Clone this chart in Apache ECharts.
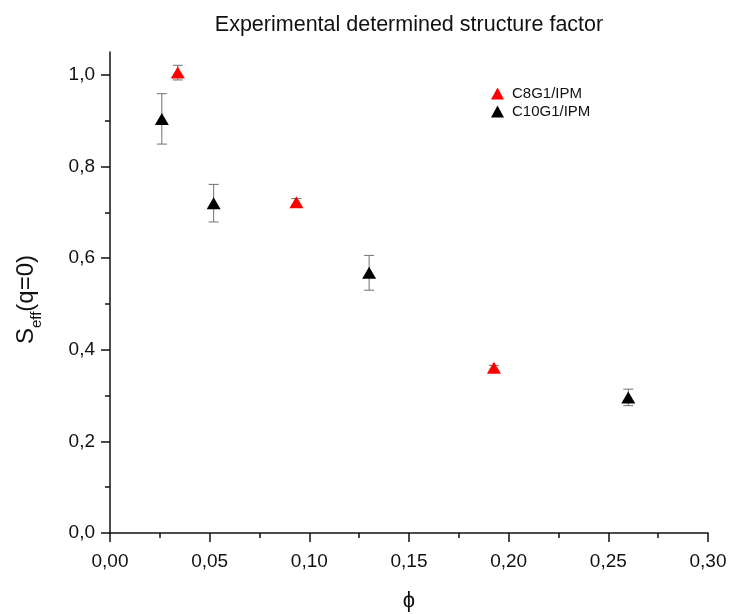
<!DOCTYPE html>
<html><head><meta charset="utf-8">
<script src="https://cdn.jsdelivr.net/npm/echarts@6/dist/echarts.min.js"></script>
<style>html,body{margin:0;padding:0;background:#fff}#c{width:729px;height:614px}</style>
</head><body><div id="c"></div>
<script>
// Data
const seriesNames = ['C8G1/IPM', 'C10G1/IPM'];
const phiC8 = [0.034, 0.0935, 0.1926];
const sC8 = [1.005, 0.722, 0.361];
const errC8 = [0.016, 0.008, 0.005];
const phiC10 = [0.026, 0.052, 0.130, 0.260];
const sC10 = [0.904, 0.720, 0.568, 0.296];
const errC10 = [0.055, 0.041, 0.038, 0.018];
const xMajor = [0, 0.05, 0.10, 0.15, 0.20, 0.25, 0.30];
const xMinor = [0.025, 0.075, 0.125, 0.175, 0.225, 0.275];
const yMajor = [0, 0.2, 0.4, 0.6, 0.8, 1.0];
const yMinor = [0.1, 0.3, 0.5, 0.7, 0.9];

const FONT = '"Liberation Sans", Arial, sans-serif';
const chart = echarts.init(document.getElementById('c'), null, {renderer: 'canvas'});

function pts(xs, ys, es) { return xs.map((x, i) => [x, ys[i], es[i]]); }

function errRender(params, api) {
  const x = api.value(0), y = api.value(1), e = api.value(2);
  const top = api.coord([x, y + e]);
  const bot = api.coord([x, y - e]);
  const hw = 5;
  const st = {stroke: '#707070', lineWidth: 1};
  return {type: 'group', children: [
    {type: 'line', shape: {x1: top[0], y1: top[1], x2: bot[0], y2: bot[1]}, style: st},
    {type: 'line', shape: {x1: top[0] - hw, y1: top[1], x2: top[0] + hw, y2: top[1]}, style: st},
    {type: 'line', shape: {x1: bot[0] - hw, y1: bot[1], x2: bot[0] + hw, y2: bot[1]}, style: st}
  ]};
}

const axisLbl = {fontFamily: FONT, fontSize: 19, color: '#111'};

chart.setOption({
  animation: false,
  backgroundColor: '#fff',
  title: {
    text: 'Experimental determined structure factor',
    left: 404, top: 9, textAlign: 'center',
    textStyle: {fontFamily: FONT, fontSize: 21.5, fontWeight: 'normal', color: '#111'}
  },
  legend: {
    orient: 'vertical', left: 486, top: 81, itemGap: 3,
    itemWidth: 13, itemHeight: 12,
    data: [{name: seriesNames[0], icon: 'triangle'}, {name: seriesNames[1], icon: 'triangle'}],
    textStyle: {fontFamily: FONT, fontSize: 15, color: '#111', padding: [0, 0, 0, 3]}
  },
  grid: {left: 110, right: 21, top: 52, bottom: 81, containLabel: false, outerBoundsMode: 'none'},
  xAxis: [{
    type: 'value', min: 0, max: 0.30,
    name: '\u03D5', nameLocation: 'middle', nameGap: 57,
    nameTextStyle: {fontFamily: FONT, fontSize: 22, color: '#111'},
    axisLine: {show: true, onZero: false, lineStyle: {color: '#111', width: 1.5}},
    axisTick: {show: true, length: 9, lineStyle: {color: '#111', width: 1.5}, customValues: xMajor},
    axisLabel: {...axisLbl, margin: 19, customValues: xMajor,
      formatter: v => v.toFixed(2).replace('.', ',')},
    splitLine: {show: false}
  }, {
    type: 'value', min: 0, max: 0.30, position: 'bottom',
    axisLine: {show: false},
    axisTick: {show: true, length: 5, lineStyle: {color: '#111', width: 1.5}, customValues: xMinor},
    axisLabel: {show: false}, splitLine: {show: false}
  }],
  yAxis: [{
    type: 'value', min: 0, max: 1.05,
    name: '{m|S}{s|eff}{m|(q=0)}', nameLocation: 'middle', nameGap: 66,
    nameTextStyle: {fontFamily: FONT, color: '#111', padding: [0, 14, 0, 0],
      rich: {m: {fontFamily: FONT, fontSize: 24, color: '#111', lineHeight: 30, verticalAlign: 'top'},
             s: {fontFamily: FONT, fontSize: 15, color: '#111', verticalAlign: 'top', padding: [15, 0, 0, 0]}}},
    axisLine: {show: true, onZero: false, lineStyle: {color: '#111', width: 1.5}},
    axisTick: {show: true, length: 9, lineStyle: {color: '#111', width: 1.5}, customValues: yMajor},
    axisLabel: {...axisLbl, margin: 15, customValues: yMajor,
      formatter: v => v.toFixed(1).replace('.', ',')},
    splitLine: {show: false}
  }, {
    type: 'value', min: 0, max: 1.05, position: 'left',
    axisLine: {show: false},
    axisTick: {show: true, length: 5, lineStyle: {color: '#111', width: 1.5}, customValues: yMinor},
    axisLabel: {show: false}, splitLine: {show: false}
  }],
  series: [
    {type: 'custom', name: 'errC8', renderItem: errRender, data: pts(phiC8, sC8, errC8), z: 1, silent: true},
    {type: 'custom', name: 'errC10', renderItem: errRender, data: pts(phiC10, sC10, errC10), z: 1, silent: true},
    {type: 'scatter', name: seriesNames[0], symbol: 'triangle', symbolSize: [14, 12],
      itemStyle: {color: '#ff0000', opacity: 1}, data: pts(phiC8, sC8, errC8), z: 3},
    {type: 'scatter', name: seriesNames[1], symbol: 'triangle', symbolSize: [14, 12],
      itemStyle: {color: '#000000', opacity: 1}, data: pts(phiC10, sC10, errC10), z: 3}
  ]
});
</script></body></html>
